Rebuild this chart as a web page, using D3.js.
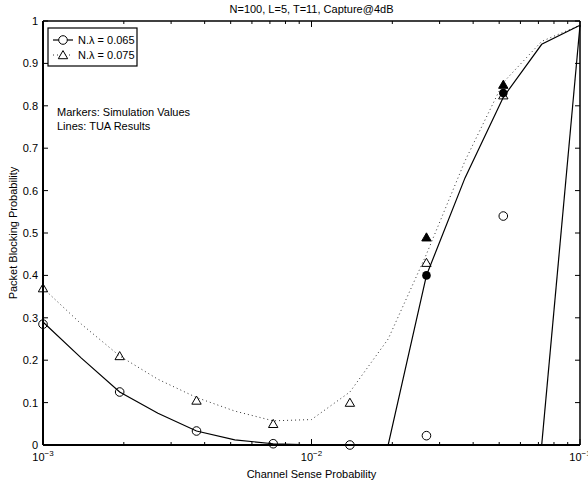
<!DOCTYPE html>
<html>
<head>
<meta charset="utf-8">
<script src="https://cdn.jsdelivr.net/npm/d3@7"></script>
<style>
  body { margin: 0; background: #fff; }
  text { font-family: "Liberation Sans", Arial, sans-serif; fill: #000; }
</style>
</head>
<body>
<div id="chart"></div>
<script>
// channel sense probability grid used by the TUA lines
const lineX = [0.001, 0.00139, 0.00193, 0.00268, 0.00373, 0.00518, 0.0072, 0.01,
               0.0139, 0.0193, 0.0268, 0.0373, 0.0518, 0.072, 0.1];
// TUA results, N.lambda = 0.065 (solid) and 0.075 (dotted)
const tua065 = [0.29, 0.205, 0.125, 0.075, 0.033, 0.012, 0.003, 0.0005,
                0, 0, 0.40, 0.63, 0.82, 0.945, 0.99];
const tua065Low = [null, null, null, null, null, null, null, null,
                   null, null, null, null, null, 0, 0.99];
const tua075 = [0.37, 0.285, 0.21, 0.155, 0.112, 0.08, 0.057, 0.06,
                0.125, 0.25, 0.45, 0.67, 0.855, 0.952, 0.99];

// simulation points
const simX = [0.001, 0.00193, 0.00373, 0.0072, 0.0139, 0.0268, 0.0518];
const sim065 = [0.285, 0.125, 0.033, 0.003, 0.0, 0.022, 0.54];
const sim075 = [0.37, 0.21, 0.105, 0.05, 0.10, 0.43, 0.825];
const simFilledX = [0.0268, 0.0518];
const sim065Filled = [0.40, 0.83];
const sim075Filled = [0.49, 0.85];

const yTicks = [0, 0.1, 0.2, 0.3, 0.4, 0.5, 0.6, 0.7, 0.8, 0.9, 1];
const xMajor = [0.001, 0.01, 0.1];
const legendLabels = ["N.\u03bb = 0.065", "N.\u03bb = 0.075"];

const W = 588, H = 483;
const margin = {top: 21, right: 8, bottom: 38, left: 43};
const width = W - margin.left - margin.right;
const height = H - margin.top - margin.bottom;

const svg = d3.select("#chart").append("svg")
    .attr("width", W).attr("height", H);

const x = d3.scaleLog().domain([0.001, 0.1]).range([0, width]);
const y = d3.scaleLinear().domain([0, 1]).range([height, 0]);

const g = svg.append("g")
    .attr("transform", "translate(" + margin.left + "," + margin.top + ")");

// minor + major ticks, drawn inward on all four sides
const xMinor = [];
for (let d = 0.001; d < 0.1; d *= 10) {
  for (let k = 2; k <= 9; k++) xMinor.push(d * k);
}
xMinor.forEach(v => {
  g.append("line").attr("x1", x(v)).attr("x2", x(v)).attr("y1", height).attr("y2", height - 3)
    .attr("stroke", "#000");
  g.append("line").attr("x1", x(v)).attr("x2", x(v)).attr("y1", 0).attr("y2", 3)
    .attr("stroke", "#000");
});
xMajor.forEach(v => {
  g.append("line").attr("x1", x(v)).attr("x2", x(v)).attr("y1", height).attr("y2", height - 6)
    .attr("stroke", "#000");
  g.append("line").attr("x1", x(v)).attr("x2", x(v)).attr("y1", 0).attr("y2", 6)
    .attr("stroke", "#000");
  const t = g.append("text")
      .attr("x", x(v)).attr("y", height + 16)
      .attr("text-anchor", "middle")
      .attr("font-size", 11);
  t.append("tspan").text("10");
  t.append("tspan").attr("dy", -5).attr("font-size", 8)
    .text("\u2212" + Math.round(-Math.log10(v)));
});
yTicks.forEach(v => {
  g.append("line").attr("x1", 0).attr("x2", 5).attr("y1", y(v)).attr("y2", y(v))
    .attr("stroke", "#000");
  g.append("line").attr("x1", width).attr("x2", width - 5).attr("y1", y(v)).attr("y2", y(v))
    .attr("stroke", "#000");
  g.append("text")
    .attr("x", -5).attr("y", y(v) + 4)
    .attr("text-anchor", "end")
    .attr("font-size", 11)
    .text(v === 0 || v === 1 ? String(v) : v.toFixed(1));
});

// lines
const line = d3.line()
    .defined(d => d[1] !== null)
    .x(d => x(d[0]))
    .y(d => y(d[1]));

g.append("path")
    .datum(lineX.map((v, i) => [v, tua075[i]]))
    .attr("d", line)
    .attr("fill", "none")
    .attr("stroke", "#333")
    .attr("stroke-width", 1)
    .attr("stroke-dasharray", "1,3");

g.append("path")
    .datum(lineX.map((v, i) => [v, tua065[i]]))
    .attr("d", line)
    .attr("fill", "none")
    .attr("stroke", "#000")
    .attr("stroke-width", 1.2);

g.append("path")
    .datum(lineX.map((v, i) => [v, tua065Low[i]]))
    .attr("d", line)
    .attr("fill", "none")
    .attr("stroke", "#000")
    .attr("stroke-width", 1.2);

// markers
const tri = d3.symbol().type(d3.symbolTriangle).size(38);

g.selectAll(".c065")
  .data(simX.map((v, i) => [v, sim065[i]]))
  .enter().append("circle")
    .attr("cx", d => x(d[0])).attr("cy", d => y(d[1]))
    .attr("r", 4.3)
    .attr("fill", "none").attr("stroke", "#000").attr("stroke-width", 1);

g.selectAll(".t075")
  .data(simX.map((v, i) => [v, sim075[i]]))
  .enter().append("path")
    .attr("d", tri)
    .attr("transform", d => "translate(" + x(d[0]) + "," + (y(d[1]) + 1) + ")")
    .attr("fill", "none").attr("stroke", "#000").attr("stroke-width", 1);

g.selectAll(".c065f")
  .data(simFilledX.map((v, i) => [v, sim065Filled[i]]))
  .enter().append("circle")
    .attr("cx", d => x(d[0])).attr("cy", d => y(d[1]))
    .attr("r", 4.3)
    .attr("fill", "#000");

g.selectAll(".t075f")
  .data(simFilledX.map((v, i) => [v, sim075Filled[i]]))
  .enter().append("path")
    .attr("d", tri)
    .attr("transform", d => "translate(" + x(d[0]) + "," + (y(d[1]) + 1) + ")")
    .attr("fill", "#000").attr("stroke", "#000");

// frame
g.append("line").attr("x1", 0).attr("x2", width).attr("y1", 0).attr("y2", 0)
  .attr("stroke", "#000").attr("stroke-width", 1.5);
g.append("line").attr("x1", width).attr("x2", width).attr("y1", 0).attr("y2", height)
  .attr("stroke", "#000").attr("stroke-width", 1.5);
g.append("line").attr("x1", 0).attr("x2", width).attr("y1", height).attr("y2", height)
  .attr("stroke", "#000").attr("stroke-width", 2);
g.append("line").attr("x1", 0).attr("x2", 0).attr("y1", 0).attr("y2", height)
  .attr("stroke", "#000").attr("stroke-width", 2);

// legend
const lg = g.append("g").attr("transform", "translate(5,7)");
lg.append("rect").attr("width", 89).attr("height", 38)
  .attr("fill", "#fff").attr("stroke", "#000").attr("stroke-width", 1.2);
legendLabels.forEach((lab, i) => {
  const yy = 12 + i * 15;
  lg.append("line").attr("x1", 5).attr("x2", 25).attr("y1", yy).attr("y2", yy)
    .attr("stroke", i === 0 ? "#000" : "#333")
    .attr("stroke-width", i === 0 ? 1.2 : 1)
    .attr("stroke-dasharray", i === 0 ? null : "1,3");
  if (i === 0) {
    lg.append("circle").attr("cx", 15).attr("cy", yy).attr("r", 4.3)
      .attr("fill", "#fff").attr("stroke", "#000");
  } else {
    lg.append("path").attr("d", tri)
      .attr("transform", "translate(15," + (yy + 1) + ")")
      .attr("fill", "#fff").attr("stroke", "#000");
  }
  lg.append("text").attr("x", 30).attr("y", yy + 4)
    .attr("font-size", 11).text(lab);
});

// notes
g.append("text").attr("x", 14).attr("y", 95).attr("font-size", 11)
  .text("Markers: Simulation Values");
g.append("text").attr("x", 14).attr("y", 109).attr("font-size", 11)
  .text("Lines: TUA Results");

// title and axis labels
svg.append("text")
  .attr("x", margin.left + width / 2).attr("y", 13)
  .attr("text-anchor", "middle").attr("font-size", 11)
  .text("N=100, L=5, T=11, Capture@4dB");
svg.append("text")
  .attr("x", margin.left + width / 2).attr("y", H - 5)
  .attr("text-anchor", "middle").attr("font-size", 11)
  .text("Channel Sense Probability");
svg.append("text")
  .attr("transform", "translate(17," + (margin.top + height / 2) + ") rotate(-90)")
  .attr("text-anchor", "middle").attr("font-size", 11)
  .text("Packet Blocking Probability");
</script>
</body>
</html>
